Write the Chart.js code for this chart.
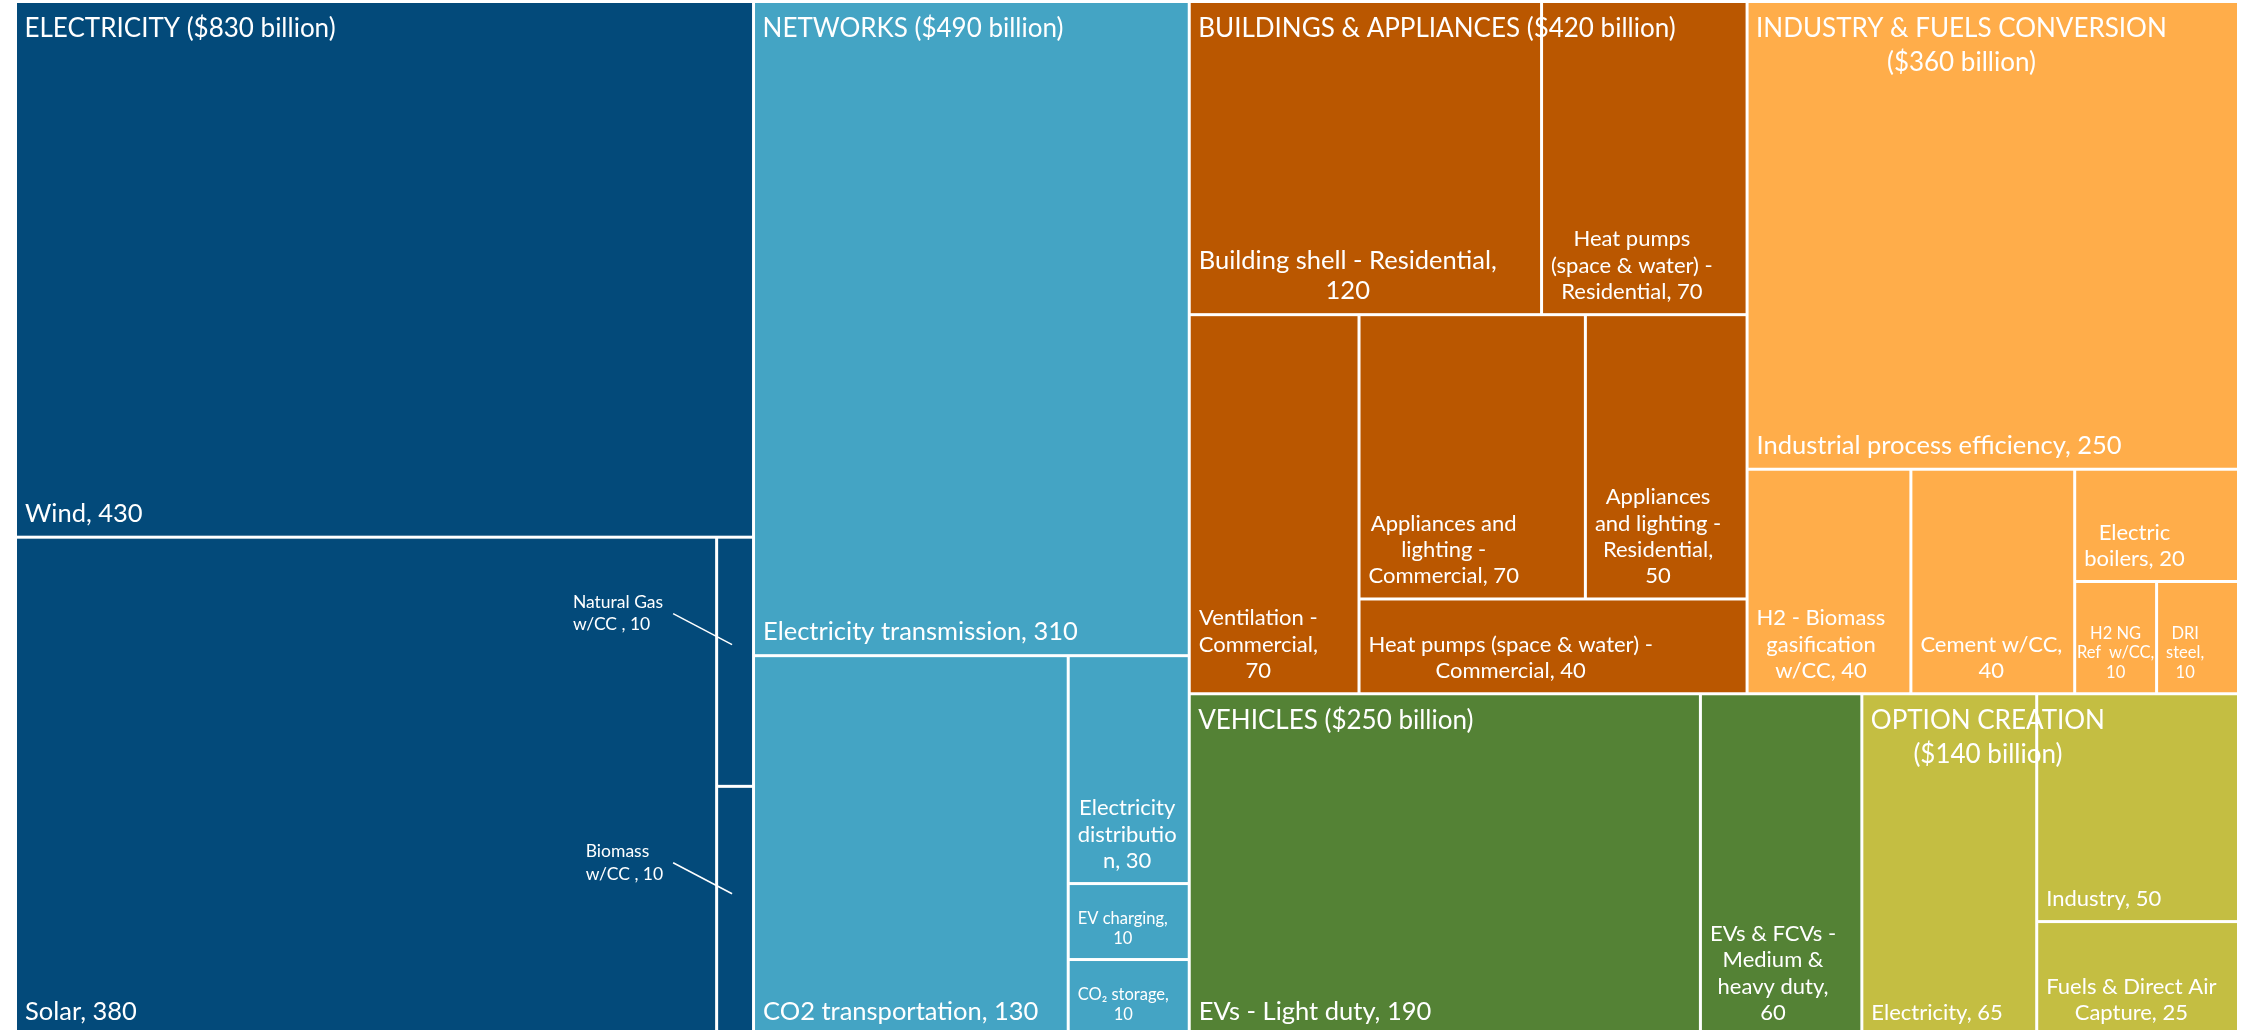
<!DOCTYPE html>
<html>
<head>
<meta charset="utf-8">
<script src="https://cdn.jsdelivr.net/npm/chart.js@4.4.1/dist/chart.umd.min.js"></script>
<style>
  html, body { margin: 0; padding: 0; background: #ffffff; overflow: hidden; }
  #tree { display: block; }
</style>
</head>
<body>
<canvas id="tree" width="2244" height="1040"></canvas>
<script>
// Investment by sector, $ billion
const sectorNames = ['ELECTRICITY', 'NETWORKS', 'BUILDINGS & APPLIANCES', 'INDUSTRY & FUELS CONVERSION', 'VEHICLES', 'OPTION CREATION'];
const sectorBillions = [830, 490, 420, 360, 250, 140];
const sectorColors = ['#034a7a', '#44a4c4', '#ba5700', '#ffad4a', '#548235', '#c4be42'];

const electricityNames = ['Wind', 'Solar', 'Natural Gas w/CC ', 'Biomass w/CC '];
const electricityValues = [430, 380, 10, 10];

const networksNames = ['Electricity transmission', 'CO2 transportation', 'Electricity distribution', 'EV charging', 'CO\u2082 storage'];
const networksValues = [310, 130, 30, 10, 10];

const buildingsNames = ['Building shell - Residential', 'Heat pumps (space & water) - Residential', 'Ventilation - Commercial',
  'Appliances and lighting - Commercial', 'Appliances and lighting - Residential', 'Heat pumps (space & water) - Commercial'];
const buildingsValues = [120, 70, 70, 70, 50, 40];

const industryNames = ['Industrial process efficiency', 'H2 - Biomass gasification w/CC', 'Cement w/CC', 'Electric boilers',
  'H2 NG Ref\u00a0\u00a0w/CC', 'DRI steel'];
const industryValues = [250, 40, 40, 20, 10, 10];

const vehiclesNames = ['EVs - Light duty', 'EVs & FCVs - Medium & heavy duty'];
const vehiclesValues = [190, 60];

const optionNames = ['Electricity', 'Industry', 'Fuels & Direct Air Capture'];
const optionValues = [65, 50, 25];

const sectorLeaves = [
  { names: electricityNames, values: electricityValues },
  { names: networksNames, values: networksValues },
  { names: buildingsNames, values: buildingsValues },
  { names: industryNames, values: industryValues },
  { names: vehiclesNames, values: vehiclesValues },
  { names: optionNames, values: optionValues }
];

const FONT = 'Lato, "Open Sans", sans-serif';
const GAP = 3;
const HEADER_SIZE = 26;

const sum = arr => arr.reduce((a, b) => a + b, 0);

// label size steps down with the size of the cell's value
function fontFor(value) {
  if (value >= 100) return 25.5;
  if (value >= 20) return 22;
  return 16.5;
}

// Squarified split: wide areas peel off one column at a time,
// tall (or square) areas get a row across the top that grows while the worst aspect improves.
function squarify(values, rect, kx, ky) {
  const cells = [];
  let { x, y, w, h } = rect;
  let left = sum(values);
  let i = 0;
  while (i < values.length) {
    const pw = w * kx, ph = h * ky;
    if (pw > ph * 1.05) {
      const cw = w * values[i] / left;
      cells.push({ x, y, w: cw, h });
      x += cw; w -= cw; left -= values[i]; i++;
      continue;
    }
    const worst = j => {
      const s = sum(values.slice(i, j));
      const rh = ph * s / left;
      let r = 0;
      for (let k = i; k < j; k++) {
        const cw = pw * values[k] / s;
        r = Math.max(r, cw / rh, rh / cw);
      }
      return r;
    };
    let j = i + 1, best = worst(j);
    while (j < values.length) {
      const r = worst(j + 1);
      if (r > best) break;
      best = r; j++;
    }
    const s = sum(values.slice(i, j));
    const rh = h * s / left;
    let cx = x;
    for (let k = i; k < j; k++) {
      const cw = w * values[k] / s;
      cells.push({ x: cx, y, w: cw, h: rh });
      cx += cw;
    }
    y += rh; h -= rh; left -= s; i = j;
  }
  return cells;
}

// word wrap at maxW (a trailing comma may hang past the edge);
// a lone word may run up to hardW before it gets split
function wrapLines(ctx, text, maxW, hardW) {
  hardW = hardW || maxW;
  const width = s => ctx.measureText(s.replace(/,$/, '')).width;
  const lines = [];
  let line = '';
  for (let word of text.split(' ')) {
    const test = line ? line + ' ' + word : word;
    if (width(test) <= maxW) { line = test; continue; }
    if (line) { lines.push(line); line = ''; }
    while (width(word) > hardW && word.length > 1) {
      let k = word.length - 1;
      while (k > 1 && width(word.slice(0, k)) > hardW) k--;
      lines.push(word.slice(0, k));
      word = word.slice(k);
    }
    line = word;
  }
  if (line) lines.push(line);
  return lines;
}

function drawLeafLabel(ctx, text, box, size) {
  ctx.font = size + 'px ' + FONT;
  const w = box.r - box.l;
  const pad = Math.max(9, size * 0.5);
  const lines = wrapLines(ctx, text, w - 2 * pad, w - 2 * pad + 14);
  const widths = lines.map(l => ctx.measureText(l).width);
  const bw = Math.max(...widths);
  const x0 = bw > w - 16 ? box.l + (w - bw) / 2 : box.l + 8;
  const lh = size * 1.2;
  const base = box.b - 14 - (lines.length - 1) * lh;
  ctx.save();
  ctx.beginPath();
  ctx.rect(box.l, box.t, w, box.b - box.t);
  ctx.clip();
  lines.forEach((l, i) => ctx.fillText(l, x0 + (bw - widths[i]) / 2, base + i * lh));
  ctx.restore();
}

// narrow cells get their label outside to the left with a leader line
function drawCallout(ctx, text, box, size) {
  ctx.font = size + 'px ' + FONT;
  const lines = wrapLines(ctx, text, 105);
  const widths = lines.map(l => ctx.measureText(l).width);
  const bw = Math.max(...widths);
  const right = box.l - 55;
  const base = box.t + (box.b - box.t) * 0.28;
  const lh = size * 1.3;
  lines.forEach((l, i) => ctx.fillText(l, right - bw, base + i * lh));
  ctx.beginPath();
  ctx.moveTo(right + 10, base + 6);
  ctx.lineTo((box.l + box.r) / 2 - 3, base + 37);
  ctx.strokeStyle = '#ffffff';
  ctx.lineWidth = 1.5;
  ctx.stroke();
}

// sector title; the amount drops to its own line when the whole title doesn't fit
function drawHeader(ctx, name, amount, box, size) {
  ctx.font = size + 'px ' + FONT;
  const pad = 9;
  const avail = box.r - box.l - 2 * pad;
  const full = name + ' ' + amount;
  const lines = ctx.measureText(full).width <= avail ? [full] : wrapLines(ctx, name, avail).concat([amount]);
  const widths = lines.map(l => ctx.measureText(l).width);
  const bw = Math.max(...widths);
  const lh = size * 1.32;
  lines.forEach((l, i) => ctx.fillText(l, box.l + pad + (bw - widths[i]) / 2, box.t + 35 + i * lh));
}

const treemapPlugin = {
  id: 'treemapCells',
  afterDatasetsDraw(chart) {
    const { ctx, scales: { x, y } } = chart;
    const kx = Math.abs(x.getPixelForValue(1) - x.getPixelForValue(0));
    const ky = Math.abs(y.getPixelForValue(1) - y.getPixelForValue(0));
    const toPx = r => {
      const xa = x.getPixelForValue(r.x), xb = x.getPixelForValue(r.x + r.w);
      const ya = y.getPixelForValue(r.y), yb = y.getPixelForValue(r.y + r.h);
      return { l: Math.min(xa, xb), t: Math.min(ya, yb), r: Math.max(xa, xb), b: Math.max(ya, yb) };
    };
    const whole = { x: x.min, y: y.min, w: x.max - x.min, h: y.max - y.min };
    const groups = squarify(sectorLeaves.map(s => sum(s.values)), whole, kx, ky);

    ctx.save();
    ctx.textBaseline = 'alphabetic';
    groups.forEach((g, gi) => {
      const leaves = sectorLeaves[gi];
      const cells = squarify(leaves.values, g, kx, ky);
      cells.forEach((c, ci) => {
        const p = toPx(c);
        const box = { l: p.l + GAP / 2, t: p.t + GAP / 2, r: p.r - GAP / 2, b: p.b - GAP / 2 };
        ctx.fillStyle = sectorColors[gi];
        ctx.fillRect(box.l, box.t, box.r - box.l, box.b - box.t);
        ctx.fillStyle = '#ffffff';
        const value = leaves.values[ci];
        const text = leaves.names[ci] + ', ' + value;
        if (box.r - box.l < 50) drawCallout(ctx, text, box, fontFor(value) + 1);
        else drawLeafLabel(ctx, text, box, fontFor(value));
      });
    });
    ctx.fillStyle = '#ffffff';
    groups.forEach((g, gi) => {
      drawHeader(ctx, sectorNames[gi], '($' + sectorBillions[gi] + ' billion)', toPx(g), HEADER_SIZE);
    });
    ctx.restore();
  }
};

new Chart(document.getElementById('tree'), {
  type: 'scatter',
  data: { datasets: [{ data: [], pointRadius: 0 }] },
  options: {
    responsive: false,
    animation: false,
    layout: { padding: { left: 15.5, top: 1.5, right: 5.5, bottom: 4.5 } },
    scales: {
      x: { type: 'linear', min: 0, max: 1000, display: false },
      y: { type: 'linear', min: 0, max: 1000, reverse: true, display: false }
    },
    plugins: { legend: { display: false }, tooltip: { enabled: false } }
  },
  plugins: [treemapPlugin]
});
</script>
</body>
</html>
